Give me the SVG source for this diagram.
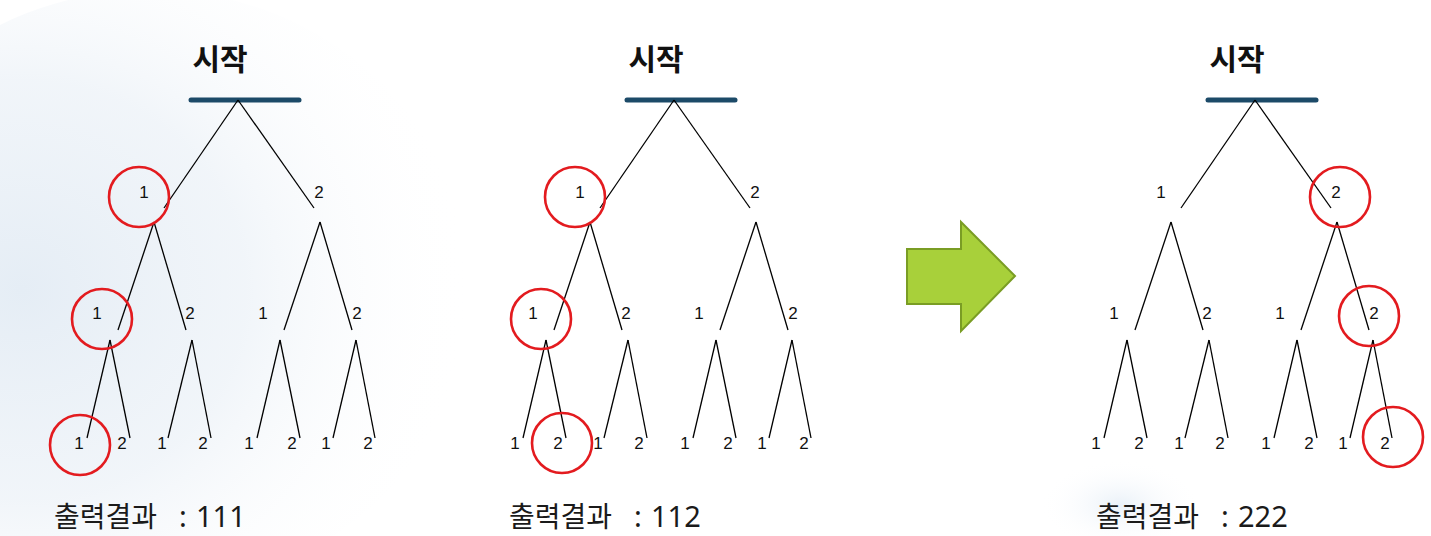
<svg xmlns="http://www.w3.org/2000/svg" width="1431" height="536" viewBox="0 0 1431 536">
<style>
.title{font-family:"Noto Sans CJK KR","Noto Sans",sans-serif;font-weight:700;font-size:30px;fill:#111;text-anchor:middle}
.bar{stroke:#1c4a68;stroke-width:5;stroke-linecap:round}
.edge{stroke:#000;stroke-width:1.3;fill:none}
.num{font-family:"Liberation Sans","DejaVu Sans",sans-serif;font-size:17px;fill:#111;text-anchor:middle}
.mark{fill:none;stroke:#e31b1f;stroke-width:2.6}
.out{font-family:"Noto Sans CJK KR","Noto Sans",sans-serif;font-size:28px;fill:#1a1a1a}
.outd{font-family:"Noto Sans","Noto Sans CJK KR",sans-serif;font-size:29px}
</style>
<defs>
<radialGradient id="glow" cx="0.3" cy="0.5" r="0.7">
<stop offset="0" stop-color="#e2ebf4" stop-opacity="0.9"/>
<stop offset="0.5" stop-color="#ebf1f7" stop-opacity="0.7"/>
<stop offset="1" stop-color="#ffffff" stop-opacity="0"/>
</radialGradient>
<radialGradient id="glow2" cx="0.5" cy="0.5" r="0.5">
<stop offset="0" stop-color="#eaf1f8"/>
<stop offset="1" stop-color="#ffffff" stop-opacity="0"/>
</radialGradient>
<g id="edges">
<line class="edge" x1="238" y1="100" x2="164" y2="208"/>
<line class="edge" x1="238" y1="100" x2="314" y2="208"/>
<line class="edge" x1="154" y1="222" x2="118" y2="330"/>
<line class="edge" x1="154" y1="222" x2="186" y2="330"/>
<line class="edge" x1="320" y1="222" x2="284" y2="330"/>
<line class="edge" x1="320" y1="222" x2="352" y2="330"/>
<line class="edge" x1="110" y1="340" x2="87" y2="438"/>
<line class="edge" x1="110" y1="340" x2="130" y2="438"/>
<line class="edge" x1="192" y1="340" x2="168" y2="438"/>
<line class="edge" x1="192" y1="340" x2="211" y2="438"/>
<line class="edge" x1="280" y1="340" x2="257" y2="438"/>
<line class="edge" x1="280" y1="340" x2="300" y2="438"/>
<line class="edge" x1="356" y1="340" x2="333" y2="438"/>
<line class="edge" x1="356" y1="340" x2="375" y2="438"/>
</g>
</defs>
<rect width="1431" height="536" fill="#ffffff"/>
<ellipse cx="150" cy="290" rx="320" ry="300" fill="url(#glow)"/>
<ellipse cx="1120" cy="505" rx="80" ry="45" fill="url(#glow2)"/>

<!-- Tree 1 -->
<g id="tree1">
<g id="t1-start"><text class="title" x="220" y="70">시작</text><line class="bar" x1="191" y1="100" x2="299" y2="100"/></g>
<g id="t1-connectors"><use href="#edges"/></g>
<g id="t1-l1"><text class="num" x="144" y="198">1</text><text class="num" x="319" y="198">2</text></g>
<g id="t1-l2"><text class="num" x="97" y="319">1</text><text class="num" x="190" y="319">2</text><text class="num" x="263" y="319">1</text><text class="num" x="357" y="319">2</text></g>
<g id="t1-l3"><text class="num" x="79" y="449">1</text><text class="num" x="122" y="449">2</text><text class="num" x="162" y="449">1</text><text class="num" x="203" y="449">2</text><text class="num" x="249" y="449">1</text><text class="num" x="292" y="449">2</text><text class="num" x="326" y="449">1</text><text class="num" x="368" y="449">2</text></g>
<g id="t1-marks"><circle class="mark" cx="139" cy="197" r="30"/><circle class="mark" cx="102" cy="319" r="30"/><circle class="mark" cx="80" cy="445" r="30"/></g>
<g id="t1-result"><text class="out" x="54" y="527">출력결과<tspan class="outd" x="179">:</tspan><tspan class="outd" x="196">111</tspan></text></g>
</g>

<!-- Tree 2 -->
<g id="tree2">
<g transform="translate(436,0)">
<g id="t2-start"><text class="title" x="220" y="70">시작</text><line class="bar" x1="191" y1="100" x2="299" y2="100"/></g>
<g id="t2-connectors"><use href="#edges"/></g>
<g id="t2-l1"><text class="num" x="144" y="198">1</text><text class="num" x="319" y="198">2</text></g>
<g id="t2-l2"><text class="num" x="97" y="319">1</text><text class="num" x="190" y="319">2</text><text class="num" x="263" y="319">1</text><text class="num" x="357" y="319">2</text></g>
<g id="t2-l3"><text class="num" x="79" y="449">1</text><text class="num" x="122" y="449">2</text><text class="num" x="162" y="449">1</text><text class="num" x="203" y="449">2</text><text class="num" x="249" y="449">1</text><text class="num" x="292" y="449">2</text><text class="num" x="326" y="449">1</text><text class="num" x="368" y="449">2</text></g>
</g>
<g id="t2-marks"><circle class="mark" cx="575" cy="197" r="30"/><circle class="mark" cx="541" cy="319" r="30"/><circle class="mark" cx="562" cy="443" r="30"/></g>
<g id="t2-result"><text class="out" x="509" y="527">출력결과<tspan class="outd" x="634">:</tspan><tspan class="outd" x="651">112</tspan></text></g>
</g>

<!-- Arrow -->
<g id="arrow"><polygon points="907,249 961,249 961,222 1015,276 961,331 961,304 907,304" fill="#a8d03a" stroke="#7a9d24" stroke-width="2" stroke-linejoin="miter"/></g>

<!-- Tree 3 -->
<g id="tree3">
<g transform="translate(1017,0)">
<g id="t3-start"><text class="title" x="220" y="70">시작</text><line class="bar" x1="191" y1="100" x2="299" y2="100"/></g>
<g id="t3-connectors"><use href="#edges"/></g>
<g id="t3-l1"><text class="num" x="144" y="198">1</text><text class="num" x="319" y="198">2</text></g>
<g id="t3-l2"><text class="num" x="97" y="319">1</text><text class="num" x="190" y="319">2</text><text class="num" x="263" y="319">1</text><text class="num" x="357" y="319">2</text></g>
<g id="t3-l3"><text class="num" x="79" y="449">1</text><text class="num" x="122" y="449">2</text><text class="num" x="162" y="449">1</text><text class="num" x="203" y="449">2</text><text class="num" x="249" y="449">1</text><text class="num" x="292" y="449">2</text><text class="num" x="326" y="449">1</text><text class="num" x="368" y="449">2</text></g>
</g>
<g id="t3-marks"><circle class="mark" cx="1340" cy="197" r="30"/><circle class="mark" cx="1369" cy="316" r="30"/><circle class="mark" cx="1393" cy="437" r="30"/></g>
<g id="t3-result"><text class="out" x="1096" y="527">출력결과<tspan class="outd" x="1221">:</tspan><tspan class="outd" x="1238">222</tspan></text></g>
</g>
</svg>
